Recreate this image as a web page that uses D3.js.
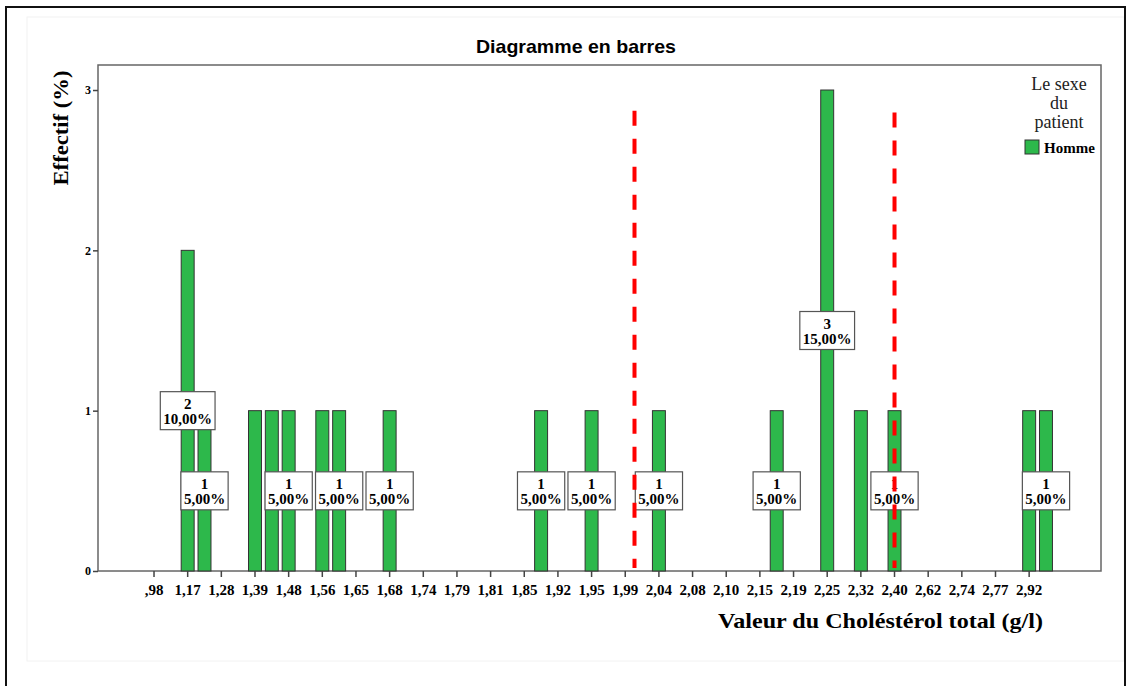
<!DOCTYPE html>
<html><head><meta charset="utf-8">
<script src="https://cdn.jsdelivr.net/npm/d3@7/dist/d3.min.js"></script>
<style>body{margin:0;background:#fff}svg{display:block}</style>
</head><body><svg id="c" width="1133" height="686"></svg>
<script>
// ---- data ----
const categories = [",98","1,10","1,17","1,20","1,28","1,35","1,39","1,45","1,48","1,50",
  "1,56","1,60","1,65","1,66","1,68","1,70","1,74","1,77","1,79","1,80",
  "1,81","1,83","1,85","1,90","1,92","1,94","1,95","1,97","1,99","2,00",
  "2,04","2,06","2,08","2,09","2,10","2,12","2,15","2,17","2,19","2,20",
  "2,25","2,30","2,32","2,35","2,40","2,50","2,62","2,70","2,74","2,75",
  "2,77","2,80","2,92","2,95"];
const homme = [0,0,2,1,0,0,1,1,1,0,
  1,1,0,0,1,0,0,0,0,0,
  0,0,0,1,0,0,1,0,0,0,
  1,0,0,0,0,0,0,1,0,0,
  3,0,1,0,1,0,0,0,0,0,
  0,0,1,1];
const tickLabels = [",98","1,17","1,28","1,39","1,48","1,56","1,65","1,68","1,74","1,79","1,81",
  "1,85","1,92","1,95","1,99","2,04","2,08","2,10","2,15","2,19","2,25","2,32","2,40",
  "2,62","2,74","2,77","2,92"];
const labelledCats = ["1,17","1,20","1,48","1,60","1,68","1,90","1,95","2,04","2,17","2,25","2,40","2,95"];
const yTicks = [0,1,2,3];
const refLines = [{cat:"1,99", shift:0.55, top:2.87}, {cat:"2,40", shift:0, top:2.86}];
const legendTitle = ["Le sexe","du","patient"];
const seriesName = "Homme";

const total = d3.sum(homme);
const data = categories.map((c,i)=>({cat:c, v:homme[i]}));

const svg = d3.select("#c");
const serif = "'Liberation Serif','Times New Roman',serif";
const sans = "'Liberation Sans',Arial,sans-serif";

// outer frames
svg.append("rect").attr("x",27).attr("y",17).attr("width",1097).attr("height",644)
  .attr("fill","none").attr("stroke","#f2f2f2");
svg.append("path").attr("d","M6,700V7H1125V700").attr("fill","none").attr("stroke","#111").attr("stroke-width",2);

const L=98,T=65,R=1101,B=571;
const x = d3.scaleBand().domain(categories).range([145.6,1054.4]).paddingInner(0.23).paddingOuter(0.115);
const y = d3.scaleLinear().domain([0,3.156]).range([B,T]);

// plot frame
svg.append("rect").attr("x",L).attr("y",T).attr("width",R-L).attr("height",B-T)
  .attr("fill","none").attr("stroke","#666").attr("stroke-width",1.5);

// title
svg.append("text").attr("x",576).attr("y",53).attr("text-anchor","middle")
  .attr("font-family",sans).attr("font-weight","bold").attr("font-size",19)
  .attr("textLength",200).attr("lengthAdjust","spacingAndGlyphs")
  .text("Diagramme en barres");

// bars
svg.append("g").selectAll("rect").data(data.filter(d=>d.v>0)).join("rect")
  .attr("x",d=>x(d.cat)).attr("width",x.bandwidth())
  .attr("y",d=>y(d.v)).attr("height",d=>y(0)-y(d.v))
  .attr("fill","#2db84b").attr("stroke","#333").attr("stroke-width",1);

// x axis
const xAxis = d3.axisBottom(x).tickValues(tickLabels).tickSize(6).tickSizeOuter(0);
const gx = svg.append("g").attr("transform",`translate(0,${B})`).call(xAxis);
gx.select(".domain").remove();
gx.selectAll(".tick line").attr("stroke","#444").attr("stroke-width",1.5);
gx.selectAll(".tick text").attr("font-family",serif).attr("font-weight","bold")
  .attr("font-size",15).attr("fill","#000").attr("dy","1em");

// y axis
const yAxis = d3.axisLeft(y).tickValues(yTicks).tickSize(5).tickFormat(d3.format("d"));
const gy = svg.append("g").attr("transform",`translate(${L},0)`).call(yAxis);
gy.select(".domain").remove();
gy.selectAll(".tick line").attr("stroke","#444").attr("stroke-width",1.5);
gy.selectAll(".tick text").attr("font-family",serif).attr("font-weight","bold")
  .attr("font-size",12).attr("fill","#000").attr("x",-7);

// axis titles
svg.append("text").attr("transform","translate(68,128) rotate(-90)").attr("text-anchor","middle")
  .attr("font-family",serif).attr("font-weight","bold").attr("font-size",22)
  .attr("textLength",115).attr("lengthAdjust","spacingAndGlyphs").text("Effectif (%)");
svg.append("text").attr("x",718).attr("y",628)
  .attr("font-family",serif).attr("font-weight","bold").attr("font-size",22)
  .attr("textLength",325).attr("lengthAdjust","spacingAndGlyphs")
  .text("Valeur du Choléstérol total (g/l)");

// value labels
const pct = v => (v/total*100).toFixed(2).replace(".",",")+"%";
const lg = svg.append("g");
data.filter(d=>labelledCats.includes(d.cat)).forEach(d=>{
  const cx = x(d.cat)+x.bandwidth()/2, cy = y(d.v/2);
  const g = lg.append("g");
  const r = g.append("rect");
  g.append("text").attr("x",cx).attr("y",cy-2).attr("text-anchor","middle")
    .attr("font-family",serif).attr("font-weight","bold").attr("font-size",15).text(d.v);
  const t2 = g.append("text").attr("x",cx).attr("y",cy+13).attr("text-anchor","middle")
    .attr("font-family",serif).attr("font-weight","bold").attr("font-size",15).text(pct(d.v));
  const w = t2.node().getComputedTextLength()+6;
  r.attr("x",cx-w/2).attr("y",cy-19).attr("width",w).attr("height",38)
    .attr("fill","#fff").attr("stroke","#555").attr("stroke-width",1.2);
});

// reference lines
svg.append("g").selectAll("line").data(refLines).join("line")
  .attr("x1",d=>x(d.cat)+x.bandwidth()/2+d.shift*x.step())
  .attr("x2",d=>x(d.cat)+x.bandwidth()/2+d.shift*x.step())
  .attr("y1",d=>y(d.top)).attr("y2",y(0)-3)
  .attr("stroke","#f00").attr("stroke-width",4).attr("stroke-dasharray","15,13");

// legend
const lgx = 1059;
legendTitle.forEach((s,i)=>{
  svg.append("text").attr("x",lgx).attr("y",90+i*19).attr("text-anchor","middle")
    .attr("font-family",serif).attr("font-size",18).attr("fill","#222").text(s);
});
svg.append("rect").attr("x",1025).attr("y",140).attr("width",14).attr("height",14)
  .attr("fill","#2db84b").attr("stroke","#333");
svg.append("text").attr("x",1044).attr("y",153).attr("font-family",serif).attr("font-weight","bold")
  .attr("font-size",15).text(seriesName);
</script></body></html>
